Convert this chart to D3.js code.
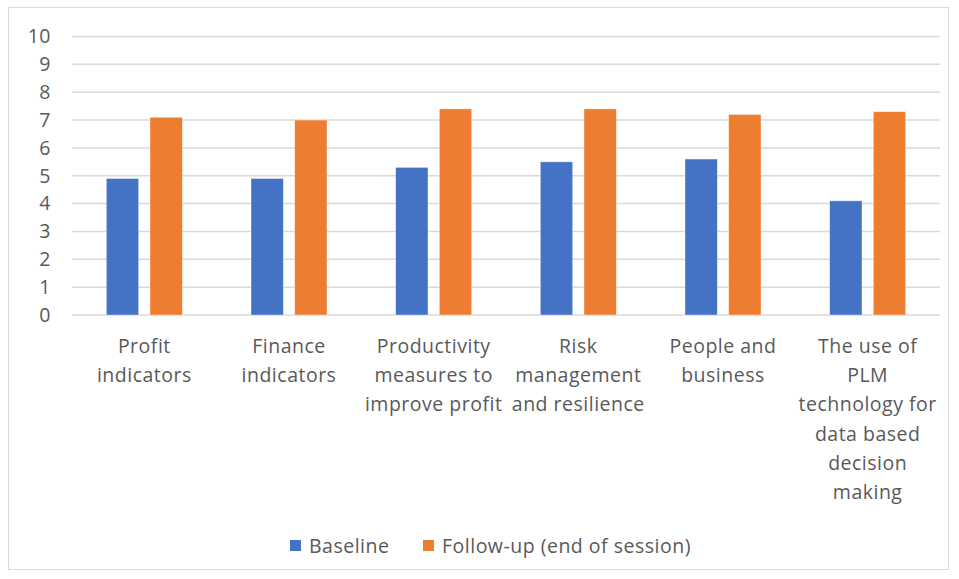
<!DOCTYPE html>
<html>
<head>
<meta charset="utf-8">
<script src="https://cdn.jsdelivr.net/npm/d3@7"></script>
<style>
  body { margin: 0; background: #fff; }
  svg text { font-family: "Open Sans", "Liberation Sans", sans-serif; fill: #595959; letter-spacing: 0.5px; }
</style>
</head>
<body>
<div id="app"></div>
<script>
// chart data
const categories = [
    ["Profit", "indicators"],
    ["Finance", "indicators"],
    ["Productivity", "measures to", "improve profit"],
    ["Risk", "management", "and resilience"],
    ["People and", "business"],
    ["The use of", "PLM", "technology for", "data based", "decision", "making"]
];
const baseline = [4.9, 4.9, 5.3, 5.5, 5.6, 4.1];
const followUp = [7.1, 7.0, 7.4, 7.4, 7.2, 7.3];
const yTicks = [0, 1, 2, 3, 4, 5, 6, 7, 8, 9, 10];
const seriesNames = ["Baseline", "Follow-up (end of session)"];
const colors = ["#4472C4", "#ED7D31"];

let width = 959,
    height = 579;

const fontSize = 19.5;
const margin = {top: 36.5, left: 72, right: 19, bottom: 264};

const svg = d3.select("#app").append("svg")
    .attr("width", width)
    .attr("height", height);

// outer frame
svg.append("rect")
    .attr("x", 8.5).attr("y", 7.5)
    .attr("width", 940).attr("height", 562)
    .attr("fill", "none")
    .attr("stroke", "#d9d9d9")
    .attr("stroke-width", 1);

const x0 = d3.scaleBand()
    .domain(d3.range(categories.length))
    .range([margin.left, width - margin.right]);

const x1 = d3.scaleBand()
    .domain([0, 1])
    .range([x0.bandwidth() / 2 - 38, x0.bandwidth() / 2 + 38])
    .paddingInner(0.26);

const y = d3.scaleLinear()
    .domain([0, 10])
    .range([315, margin.top]);

// gridlines
svg.append("g")
    .selectAll("line")
    .data(yTicks)
    .join("line")
    .attr("x1", margin.left)
    .attr("x2", width - margin.right)
    .attr("y1", d => y(d))
    .attr("y2", d => y(d))
    .attr("stroke", "#d9d9d9")
    .attr("stroke-width", 1.5);

// y axis labels
const yAxis = d3.axisLeft(y).tickValues(yTicks).tickSize(0).tickPadding(0);
const yg = svg.append("g")
    .attr("transform", "translate(51,0)")
    .call(yAxis);
yg.select(".domain").remove();
yg.selectAll("text")
    .attr("font-size", fontSize)
    .attr("fill", "#595959")
    .attr("font-family", "'Open Sans', 'Liberation Sans', sans-serif");

// bars
const groups = svg.append("g")
    .selectAll("g")
    .data(categories.map((c, i) => [baseline[i], followUp[i]]))
    .join("g")
    .attr("transform", (d, i) => `translate(${x0(i)},0)`);

groups.selectAll("rect")
    .data(d => d)
    .join("rect")
    .attr("x", (d, j) => x1(j))
    .attr("width", x1.bandwidth())
    .attr("y", d => y(d))
    .attr("height", d => y(0) - y(d))
    .attr("fill", (d, j) => colors[j])
    .attr("stroke", "#fff")
    .attr("stroke-opacity", 0.5)
    .attr("stroke-width", 0.75);

// category labels
const catLabels = svg.append("g")
    .selectAll("text")
    .data(categories)
    .join("text")
    .attr("text-anchor", "middle")
    .attr("font-size", fontSize)
    .attr("x", (d, i) => x0(i) + x0.bandwidth() / 2)
    .attr("y", 353);

catLabels.selectAll("tspan")
    .data(d => d)
    .join("tspan")
    .attr("x", function() { return this.parentNode.getAttribute("x"); })
    .attr("dy", (d, i) => i === 0 ? 0 : 29.2)
    .text(d => d);

// legend
const legendPos = [290, 423];
const legend = svg.append("g")
    .selectAll("g")
    .data(seriesNames)
    .join("g")
    .attr("transform", (d, i) => `translate(${legendPos[i]},540)`);

legend.append("rect")
    .attr("width", 11)
    .attr("height", 11)
    .attr("fill", (d, i) => colors[i]);

legend.append("text")
    .attr("x", 19)
    .attr("y", 12.5)
    .attr("font-size", fontSize)
    .text(d => d);
</script>
</body>
</html>
